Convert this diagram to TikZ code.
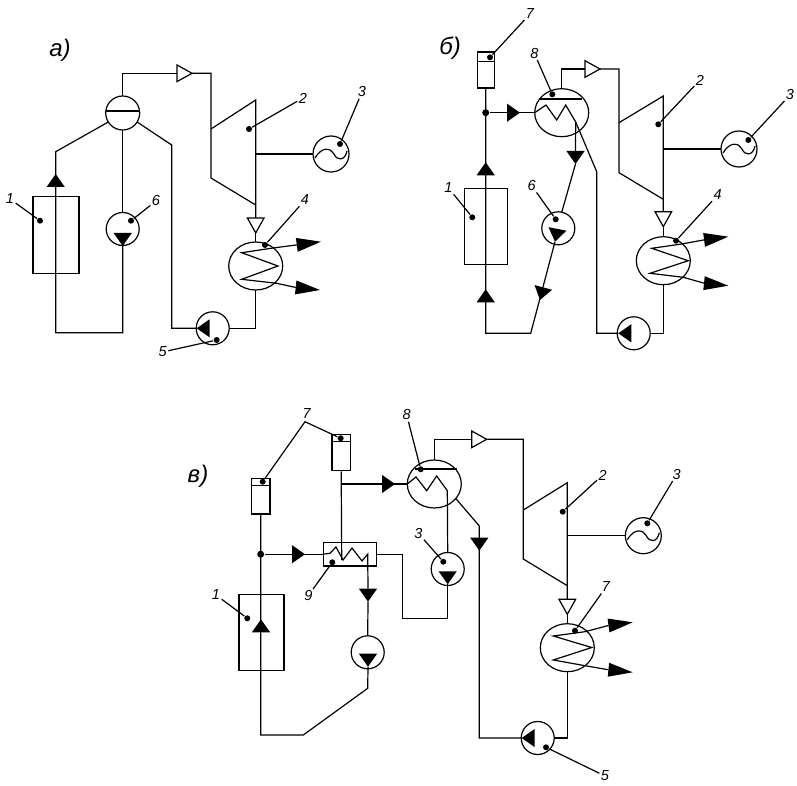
\documentclass[tikz,border=0pt]{standalone}
\usepackage{fontspec}
\setsansfont{Liberation Sans}
\usepackage{tikz}
\usetikzlibrary{shapes.geometric}
\tikzset{every path/.style = {line width = 1.2}}
\tikzset{circ/.style = {fill, circle, inner sep = 0, minimum size = 6}}
\tikzset{junc/.style = {fill, circle, inner sep = 0, minimum size = 7}}
\tikzset{unit/.style = {draw, circle, inner sep = 0, outer sep = 0, minimum size = 33}}
\tikzset{shell/.style = {draw, ellipse, inner sep = 0, outer sep = 0, minimum width = 54, minimum height = 48}}
\tikzset{tipopen/.style = {draw, fill = white, isosceles triangle, isosceles triangle apex angle = 58, inner sep = 0, outer sep = 0, minimum size = 15, anchor = apex}}
\tikzset{tipfill/.style = {fill, isosceles triangle, isosceles triangle apex angle = 70, inner sep = 0, outer sep = 0, minimum size = 13, anchor = apex}}
\tikzset{tipout/.style = {fill, isosceles triangle, isosceles triangle apex angle = 32, inner sep = 0, outer sep = 0, minimum width = 14, anchor = apex}}
\tikzset{lab/.style = {inner sep = 1, font = \sffamily\itshape\fontsize{14.5}{15}\selectfont}}
\tikzset{ttl/.style = {inner sep = 0, font = \sffamily\itshape\fontsize{24}{26}\selectfont}}
\begin{document}
\begin{tikzpicture}[x = 1pt, y = -1pt]
    \useasboundingbox (0, 0) rectangle (797, 786);

    \node [ttl] (ttla) at (60, 50) {а)};
    \node [draw, inner sep = 0, minimum width = 46, minimum height = 77] (boila) at (56, 235) {};
    \node [unit, minimum size = 34] (druma) at (122.7, 113) {};
    \node [unit] (pumpsa) at (122.7, 229) {};
    \node [unit] (pumpfa) at (212.7, 328.3) {};
    \node [unit, minimum size = 36] (gena) at (331, 154) {};
    \node [shell] (conda) at (255.7, 266) {};
    \node [tipopen] (opsa) at (192, 73.3) {};
    \node [tipopen, rotate = -90] (opca) at (255.7, 233) {};
    \node [tipfill, rotate = 90] (upa) at (55.7, 174) {};
    \node [tipfill, rotate = -90] (dna) at (122.7, 246) {};
    \node [tipfill, rotate = 180] (lfa) at (196.7, 328.3) {};
    \node [tipout, rotate = 7.5] (outua) at (321, 241.7) {};
    \node [tipout, rotate = -6] (outda) at (320, 290) {};
    \coordinate (cla) at (55.7, 151.7);
    \coordinate (cba) at (55.7, 332.7);
    \coordinate (cra) at (171.7, 145);
    \coordinate (stma) at (211, 73.3);
    \coordinate (tina) at (211, 129);
    \coordinate (tupa) at (255.7, 100);
    \coordinate (tboa) at (255.7, 205);
    \coordinate (tloa) at (211, 178);

    \draw ([yshift = 2]druma.west) -- ([yshift = 2]druma.east);
    \draw (druma.north) |- (opsa.lower side);
    \draw (opsa.apex) -- (stma) -- (tloa) -- (tboa);
    \draw (tina) -- (tupa) -- (opca.lower side);
    \draw (opca.apex) -- (conda.north);
    \draw (gena.west) -- (tupa |- gena.west);
    \draw [shift = {(gena.center)}] (-16, 4) .. controls (-9, -8) and (0, -6) .. (3, 0) .. controls (6, 7) and (14, 7) .. (16, -3);
    \draw (outua.lower side) -- (273, 248) -- (241.7, 252.7) -- (278, 266) -- (241.7, 279.3) -- (276.7, 283.3) -- (outda.lower side);
    \draw (conda.south) |- (pumpfa.east);
    \draw (lfa.apex) -| (cra) -- (druma.328);
    \draw (druma.212) -- (cla) -- (cba) -| (dna.apex);
    \draw (druma.south) -- (pumpsa.north);

    \node [lab] (laba1) at (10, 199) {1};
    \node [lab] (laba2) at (303, 98) {2};
    \node [lab] (laba3) at (362, 92) {3};
    \node [lab] (laba4) at (305, 200) {4};
    \node [lab] (laba5) at (162.7, 352) {5};
    \node [lab] (laba6) at (156, 201) {6};
    \node [circ] (dota1) at (40, 220.7) {};
    \node [circ] (dota2) at (249, 129) {};
    \node [circ] (dota3) at (340, 144) {};
    \node [circ] (dota4) at (265, 245) {};
    \node [circ] (dota5) at (216.7, 340) {};
    \node [circ] (dota6) at (131, 220.7) {};
    \draw (laba1) -- (dota1);
    \draw (laba2) -- (dota2);
    \draw (laba3) -- (dota3);
    \draw (laba4) -- (dota4);
    \draw (laba5) -- (dota5);
    \draw (laba6) -- (dota6);

    \node [ttl] (ttlb) at (450, 48) {б)};
    \node [draw, inner sep = 0, minimum width = 43.5, minimum height = 76.5] (boilb) at (486, 226.5) {};
    \node [draw, inner sep = 0, minimum width = 17, minimum height = 36] (sepb) at (485.7, 70) {};
    \node [junc] (jnb) at (485.7, 112.7) {};
    \node [shell] (heatb) at (561.7, 112.7) {};
    \node [unit] (pumpsb) at (558.3, 228.3) {};
    \node [unit] (pumpfb) at (633.7, 333.3) {};
    \node [unit, minimum size = 36] (genb) at (739, 149) {};
    \node [shell] (condb) at (663.3, 260.7) {};
    \node [tipopen] (opsb) at (600, 69) {};
    \node [tipopen, rotate = -90] (opcb) at (663.3, 226.7) {};
    \node [tipfill] (rtb) at (520, 112.7) {};
    \node [tipfill, rotate = 90] (upb) at (485.7, 162.3) {};
    \node [tipfill, rotate = 90] (upc) at (485.7, 289.3) {};
    \node [tipfill, rotate = -90] (dnb) at (575.5, 164) {};
    \node [tipfill, rotate = -101] (dnc) at (555, 241.7) {};
    \node [tipfill, rotate = -104.8] (dnd) at (540, 300) {};
    \node [tipfill, rotate = 180] (lfb) at (618.3, 333.3) {};
    \node [tipout, rotate = 7.5] (outub) at (728.3, 236.7) {};
    \node [tipout, rotate = -6] (outdb) at (728.3, 285.7) {};
    \coordinate (clb) at (485.7, 333.3);
    \coordinate (cbb) at (530.7, 333.3);
    \coordinate (crb) at (596.7, 171.7);
    \coordinate (coilb) at (575.7, 122);
    \coordinate (stmb) at (619, 69);
    \coordinate (tinb) at (619, 122.7);
    \coordinate (tupb) at (663.3, 96);
    \coordinate (tbob) at (663.3, 199.3);
    \coordinate (tlob) at (619, 172.7);

    \draw (477.2, 61.7) -- (494.2, 61.7);
    \draw (540, 99) -- (582, 99);
    \draw (sepb.south) -- (clb) -- (cbb) -- (dnc.apex);
    \draw (jnb) -- (heatb.west);
    \draw (heatb.west) -- (546, 105) -- (556.7, 120) -- (565.7, 105) -- (coilb) -- (dnb.lower side);
    \draw (dnb.apex) -- (pumpsb.78);
    \draw (heatb.north) |- (opsb.lower side);
    \draw (opsb.apex) -- (stmb) -- (tlob) -- (tbob);
    \draw (tinb) -- (tupb) -- (opcb.lower side);
    \draw (opcb.apex) -- (condb.north);
    \draw (genb.west) -- (tupb |- genb.west);
    \draw [shift = {(genb.center)}] (-16, 4) .. controls (-9, -8) and (0, -6) .. (3, 0) .. controls (6, 7) and (14, 7) .. (16, -3);
    \draw (outub.lower side) -- (681.7, 244) -- (651.7, 248.3) -- (688.3, 260.7) -- (650, 273.3) -- (683.3, 277.3) -- (outdb.lower side);
    \draw (condb.south) |- (pumpfb.east);
    \draw (lfb.apex) -| (crb) -- (coilb);

    \node [lab] (labb1) at (448.3, 187.7) {1};
    \node [lab] (labb2) at (700, 80) {2};
    \node [lab] (labb3) at (790, 95) {3};
    \node [lab] (labb4) at (717.7, 195) {4};
    \node [lab] (labb6) at (531.7, 185.7) {6};
    \node [lab] (labb7) at (530, 14) {7};
    \node [lab] (labb8) at (534.3, 53.3) {8};
    \node [circ] (dotb1) at (472.3, 217.3) {};
    \node [circ] (dotb2) at (658.3, 124.3) {};
    \node [circ] (dotb3) at (748.3, 140) {};
    \node [circ] (dotb4) at (676, 240.7) {};
    \node [circ] (dotb6) at (555.7, 219.3) {};
    \node [circ] (dotb7) at (490, 57.3) {};
    \node [circ] (dotb8) at (552.3, 94.3) {};
    \draw (labb1) -- (dotb1);
    \draw (labb2) -- (dotb2);
    \draw (labb3) -- (dotb3);
    \draw (labb4) -- (dotb4);
    \draw (labb6) -- (dotb6);
    \draw (labb7) -- (dotb7);
    \draw (labb8) -- (dotb8);

    \node [ttl] (ttlc) at (198, 476.7) {в)};
    \node [draw, inner sep = 0, minimum width = 45, minimum height = 76.5] (boilc) at (261.5, 632.5) {};
    \node [draw, inner sep = 0, minimum width = 18.7, minimum height = 35.7] (sepc) at (260.7, 496.2) {};
    \node [draw, inner sep = 0, minimum width = 18.3, minimum height = 36.4] (sepd) at (341.2, 452.5) {};
    \node [draw, inner sep = 0, minimum width = 53, minimum height = 23.7] (regc) at (350.2, 554.2) {};
    \node [junc] (jnc) at (260.7, 554.2) {};
    \node [shell] (heatc) at (434.3, 484) {};
    \node [unit] (pumptc) at (447.7, 569) {};
    \node [unit] (pumpgc) at (367.7, 652.3) {};
    \node [unit] (pumpfc) at (537.7, 738) {};
    \node [unit, minimum size = 36] (genc) at (643.3, 535.7) {};
    \node [shell] (condc) at (567.3, 647.7) {};
    \node [tipopen] (opsc) at (486.7, 439.3) {};
    \node [tipopen, rotate = -90] (opcc) at (567.3, 614.3) {};
    \node [tipfill] (rtc) at (305, 554.2) {};
    \node [tipfill] (rtd) at (395, 484) {};
    \node [tipfill, rotate = 90] (upd) at (261, 619.3) {};
    \node [tipfill, rotate = -90] (dne) at (368, 601.7) {};
    \node [tipfill, rotate = -90] (dnf) at (368, 666.7) {};
    \node [tipfill, rotate = -90] (dng) at (447.7, 584.3) {};
    \node [tipfill, rotate = -90] (dnh) at (479.3, 550.7) {};
    \node [tipfill, rotate = 180] (lfc) at (521.7, 738) {};
    \node [tipout, rotate = 7.5] (outuc) at (632.7, 622.3) {};
    \node [tipout, rotate = -6] (outdc) at (632.7, 672.3) {};
    \coordinate (clc) at (260.7, 735);
    \coordinate (cbc) at (303.3, 735);
    \coordinate (cgc) at (367.7, 688.3);
    \coordinate (crc) at (479.3, 526);
    \coordinate (coilc) at (447.3, 490.7);
    \coordinate (coild) at (367.7, 554.2);
    \coordinate (cwc) at (402.7, 554.2);
    \coordinate (cxc) at (402.7, 618.3);
    \coordinate (stmc) at (523.3, 439.3);
    \coordinate (tinc) at (523.3, 510);
    \coordinate (tupc) at (567.3, 482.7);
    \coordinate (tboc) at (567.3, 585.7);
    \coordinate (tloc) at (523.3, 559);

    \draw (251.4, 485.7) -- (270, 485.7);
    \draw (332, 441.7) -- (350.3, 441.7);
    \draw (415, 469) -- (457.3, 469);
    \draw (sepc.south) -- (clc) -- (cbc) -- (cgc) -- (dnf.apex);
    \draw (jnc) -- (regc.west);
    \draw (regc.west) -- (330, 553.3) -- (336, 547) -- (343, 560) -- (352, 548) -- (362, 561) -- (coild) -- (dne.lower side);
    \draw (dne.apex) -- (pumpgc.north);
    \draw (sepd.south) -- (341.7, 560);
    \draw (341.7, 484) -- (heatc.west);
    \draw (heatc.west) -- (416, 477) -- (426.7, 490.7) -- (436.7, 476) -- (coilc) -- (pumptc.north);
    \draw (regc.east) -- (cwc) -- (cxc) -| (dng.apex);
    \draw (heatc.north) |- (opsc.lower side);
    \draw (opsc.apex) -- (stmc) -- (tloc) -- (tboc);
    \draw (tinc) -- (tupc) -- (opcc.lower side);
    \draw (opcc.apex) -- (condc.north);
    \draw (genc.west) -- (tupc |- genc.west);
    \draw [shift = {(genc.center)}] (-16, 4) .. controls (-9, -8) and (0, -6) .. (3, 0) .. controls (6, 7) and (14, 7) .. (16, -3);
    \draw (outuc.lower side) -- (585, 631.7) -- (553.3, 636) -- (591.7, 647.5) -- (553.3, 660) -- (586.7, 666) -- (outdc.lower side);
    \draw (condc.south) |- (pumpfc.east);
    \draw (lfc.apex) -| (crc) -- (heatc.326);

    \node [lab] (labc1) at (216, 595) {1};
    \node [lab] (labc2) at (602.7, 475) {2};
    \node [lab] (labc3) at (676.7, 474.3) {3};
    \node [lab] (labc4) at (418.3, 533.3) {3};
    \node [lab] (labc5) at (605, 776) {5};
    \node [lab] (labc7) at (306.7, 414) {7};
    \node [lab] (labc8) at (606, 587) {7};
    \node [lab] (labc9) at (406.7, 415) {8};
    \node [lab] (labc0) at (308.3, 595.7) {9};
    \node [circ] (dotc1) at (247.3, 618.3) {};
    \node [circ] (dotc2) at (562.7, 511.7) {};
    \node [circ] (dotc3) at (647.3, 523.3) {};
    \node [circ] (dotc4) at (443.3, 561.7) {};
    \node [circ] (dotc5) at (546, 747.3) {};
    \node [circ] (dotc7) at (262.7, 481.7) {};
    \node [circ] (dotd7) at (340.7, 438.3) {};
    \node [circ] (dotc8) at (575, 630.7) {};
    \node [circ] (dotc9) at (420.7, 469.3) {};
    \node [circ] (dotc0) at (332.3, 562.3) {};
    \coordinate (forkc) at (305, 421.7);
    \draw (labc1) -- (dotc1);
    \draw (labc2) -- (dotc2);
    \draw (labc3) -- (dotc3);
    \draw (labc4) -- (dotc4);
    \draw (labc5) -- (dotc5);
    \draw (dotc7) -- (forkc) -- (dotd7);
    \draw (labc8) -- (dotc8);
    \draw (labc9) -- (dotc9);
    \draw (labc0) -- (dotc0);
\end{tikzpicture}
\end{document}
